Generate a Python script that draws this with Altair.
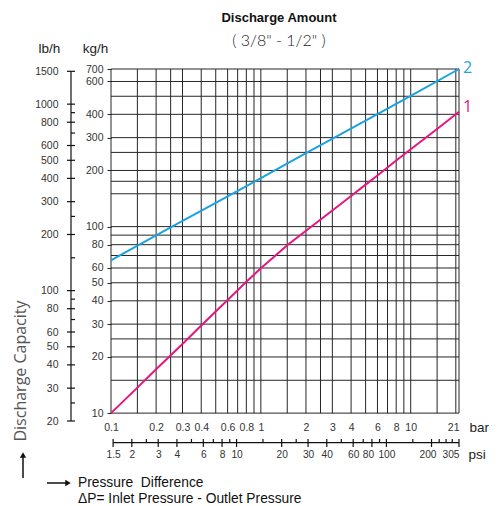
import altair as alt
import pandas as pd

# ---------------- data ----------------
# curve 1 (magenta): pressure difference [bar] -> discharge [kg/h]
c1_bar = [0.1, 0.15, 0.2, 0.3, 0.4, 0.6, 0.8, 1, 1.5, 2, 3, 4, 5, 6, 8, 10, 15, 21]
c1_kg = [10, 13.7, 17.2, 23.5, 29.5, 40.4, 50.6, 59.8, 79.4, 95, 122, 146, 168, 188, 226, 260, 334, 413]
# curve 2 (blue)
c2_bar = [0.1, 0.25, 0.5, 1, 2, 5, 10, 21]
c2_kg = [66, 99, 134, 182, 248, 370, 503, 700]
curve_names = ["1", "2"]

# grid lines
bar_grid = [0.1, 0.15, 0.2, 0.25, 0.3, 0.4, 0.5, 0.6, 0.7, 0.8, 0.9, 1, 1.5, 2, 2.5, 3,
            4, 5, 6, 7, 8, 9, 10, 15, 20, 21]
kg_grid = [10, 15, 20, 25, 30, 40, 50, 60, 70, 80, 90, 100, 150, 175, 200, 250, 300,
           400, 500, 600, 700]
# tick labels
bar_labels = [0.1, 0.2, 0.3, 0.4, 0.6, 0.8, 1, 2, 3, 4, 6, 8, 10, 21]
kg_labels = [10, 20, 30, 40, 50, 60, 80, 100, 200, 300, 400, 600, 700]
lb_major = [20, 30, 40, 50, 60, 80, 100, 200, 300, 400, 500, 600, 800, 1000, 1500]
lb_minor = [25, 70, 90, 150, 250, 700, 900]
psi_major = [1.5, 2, 3, 4, 6, 8, 10, 20, 30, 40, 60, 80, 100, 200, 305]
psi_minor = [2.5, 5, 7, 9, 15, 25, 50, 70, 90, 150, 225, 250, 275]

KG_TO_LB = 2.20462
BAR_TO_PSI = 305 / 21

# ---------------- styling ----------------
GRID = "#262626"
MAG = "#E5167F"
BLUE = "#1AA3E0"
LF = "Liberation Sans"
LABEL = dict(labelFont=LF, labelColor="#333", labelOverlap=False,
             labelFlush=False, grid=False, domain=False)
TITLE = dict(titleFont=LF, titleFontSize=13.5, titleFontWeight="normal", titleColor="#222",
             titleAngle=0, titleBaseline="middle")


def xs():
    return alt.Scale(type="log", domain=[0.1, 21], nice=False)


def ys():
    return alt.Scale(type="log", domain=[20 / KG_TO_LB, 700], nice=False)


def lbs():
    return alt.Scale(type="log", domain=[20, 700 * KG_TO_LB], nice=False)


def psis():
    return alt.Scale(type="log", domain=[0.1 * BAR_TO_PSI, 305], nice=False)


bar_axis = alt.Axis(orient="bottom", values=bar_labels, format="~g", ticks=False,
                    labelPadding=1, labelFontSize=10.5, title="bar", titleX=358, titleY=6,
                    titleAlign="left",
                    labelAlign={"condition": {"test": "datum.value >= 21", "value": "right"},
                                "value": "center"},
                    **LABEL, **TITLE)
kg_axis = alt.Axis(orient="left", values=kg_labels, format="~g", ticks=True, tickSize=4,
                   tickColor=GRID, labelPadding=4, labelFontSize=10.5, title="kg/h",
                   titleX=-16, titleY=-21, titleAlign="center", **LABEL, **TITLE)
lb_axis = alt.Axis(orient="left", offset=52, values=lb_major, format="~g", ticks=False,
                   labelPadding=1, labelFontSize=10.5, title="lb/h", titleX=-10, titleY=-21,
                   titleAlign="center", **LABEL, **TITLE)
psi_axis = alt.Axis(orient="bottom", offset=27.5, values=psi_major, format="~g", ticks=False,
                    labelPadding=1, labelFontSize=10.2, title="psi", titleX=357, titleY=6,
                    titleAlign="left",
                    labelAlign={"condition": {"test": "datum.value >= 305", "value": "right"},
                                "value": "center"},
                    labelOffset={"condition": {"test": "datum.value == 80 || datum.value == 200",
                                               "value": -4},
                                 "value": 0},
                    **LABEL, **TITLE)

# ---------------- main panel (bar / kg/h) ----------------
vgrid = alt.Chart(pd.DataFrame({"bar": bar_grid})).mark_rule(color=GRID, strokeWidth=1).encode(
    x=alt.X("bar:Q", scale=xs(), axis=bar_axis),
    y=alt.YDatum(10, scale=ys(), axis=None),
    y2=alt.datum(700),
)
hgrid = alt.Chart(pd.DataFrame({"kg": kg_grid})).mark_rule(color=GRID, strokeWidth=1).encode(
    y=alt.Y("kg:Q", scale=ys(), axis=kg_axis),
    x=alt.XDatum(0.1, scale=xs(), axis=None),
    x2=alt.datum(21),
)
curves = pd.DataFrame({
    "bar": c1_bar + c2_bar,
    "kg": c1_kg + c2_kg,
    "curve": [curve_names[0]] * len(c1_bar) + [curve_names[1]] * len(c2_bar),
})


def color():
    return alt.Color("curve:N", scale=alt.Scale(domain=curve_names, range=[MAG, BLUE]), legend=None)


lines = alt.Chart(curves).mark_line(strokeWidth=2).encode(
    x=alt.X("bar:Q", scale=xs(), axis=None),
    y=alt.Y("kg:Q", scale=ys(), axis=None),
    color=color(),
)
ends = pd.DataFrame({"bar": [c1_bar[-1], c2_bar[-1]], "kg": [c1_kg[-1], c2_kg[-1]],
                     "curve": curve_names})
end1 = alt.Chart(ends[ends.curve == "1"]).mark_text(align="left", dx=4, dy=-5, fontSize=16,
                                                    font="Open Sans").encode(
    x=alt.X("bar:Q", scale=xs(), axis=None), y=alt.Y("kg:Q", scale=ys(), axis=None),
    text="curve:N", color=color())
end2 = alt.Chart(ends[ends.curve == "2"]).mark_text(align="left", dx=4, dy=-1, fontSize=16,
                                                    font="Open Sans").encode(
    x=alt.X("bar:Q", scale=xs(), axis=None), y=alt.Y("kg:Q", scale=ys(), axis=None),
    text="curve:N", color=color())

# annotations
ann_v = pd.DataFrame({"t": ["Discharge Capacity"]})
ann_p = pd.DataFrame({"t": ["Pressure\u00a0\u00a0Difference"]})
ann_d = pd.DataFrame({"t": ["\u0394P= Inlet Pressure - Outlet Pressure"]})
vtext = alt.Chart(ann_v).mark_text(angle=270, fontSize=16, font="Open Sans", color="#555").encode(
    x=alt.value(-90), y=alt.value(302), text="t:N")
ptext = alt.Chart(ann_p).mark_text(align="left", fontSize=13.8, font=LF, color="#111").encode(
    x=alt.value(-33), y=alt.value(414), text="t:N")
dtext = alt.Chart(ann_d).mark_text(align="left", fontSize=13.8, font=LF, color="#111").encode(
    x=alt.value(-33), y=alt.value(430), text="t:N")
varrow = alt.Chart(ann_v).mark_rule(color="#111", strokeWidth=1.5).encode(
    x=alt.value(-88), y=alt.value(409), y2=alt.value(388))
vhead = alt.Chart(ann_v).mark_point(shape="triangle-up", filled=True, size=40, color="#111",
                                    opacity=1).encode(x=alt.value(-88), y=alt.value(386))
harrow = alt.Chart(ann_p).mark_rule(color="#111", strokeWidth=1.5).encode(
    x=alt.value(-64), x2=alt.value(-45), y=alt.value(414))
hhead = alt.Chart(ann_p).mark_point(shape="triangle-right", filled=True, size=40, color="#111",
                                    opacity=1).encode(x=alt.value(-43), y=alt.value(414))

# ---------------- lb/h axis ----------------
lb_line = alt.Chart(pd.DataFrame({"lb": [lb_major[0]]})).mark_rule(color="#111", strokeWidth=1.2).encode(
    y=alt.YDatum(lb_major[0], scale=lbs(), axis=None), y2=alt.datum(lb_major[-1]), x=alt.value(-40))
lb_maj = alt.Chart(pd.DataFrame({"lb": lb_major})).mark_rule(color="#111", strokeWidth=1.2).encode(
    y=alt.Y("lb:Q", scale=lbs(), axis=lb_axis), x=alt.value(-44), x2=alt.value(-36))
lb_min = alt.Chart(pd.DataFrame({"lb": lb_minor})).mark_rule(color="#111", strokeWidth=1.2).encode(
    y=alt.Y("lb:Q", scale=lbs(), axis=None), x=alt.value(-40), x2=alt.value(-36))

# ---------------- psi axis ----------------
psi_line = alt.Chart(pd.DataFrame({"psi": [psi_major[0]]})).mark_rule(color="#111", strokeWidth=1.2).encode(
    x=alt.XDatum(psi_major[0], scale=psis(), axis=None), x2=alt.datum(psi_major[-1]), y=alt.value(373.7))
psi_maj = alt.Chart(pd.DataFrame({"psi": psi_major})).mark_rule(color="#111", strokeWidth=1.2).encode(
    x=alt.X("psi:Q", scale=psis(), axis=psi_axis), y=alt.value(370), y2=alt.value(378))
psi_min = alt.Chart(pd.DataFrame({"psi": psi_minor})).mark_rule(color="#111", strokeWidth=1.2).encode(
    x=alt.X("psi:Q", scale=psis(), axis=None), y=alt.value(370), y2=alt.value(373.7))

chart = alt.layer(
    vgrid, hgrid, lines, end1, end2,
    lb_line, lb_maj, lb_min,
    psi_line, psi_maj, psi_min,
    vtext, ptext, dtext, varrow, vhead, harrow, hhead,
).resolve_scale(
    x="independent", y="independent", color="independent"
).properties(
    width=348,
    height=352,
    title=alt.TitleParams(
        text="Discharge Amount",
        subtitle='( 3/8"  -  1/2" )',
        anchor="middle", frame="group", dx=-6, offset=-8,
        font=LF, fontSize=13, fontWeight="bold", color="#111",
        subtitleFont="Lato", subtitleFontSize=16, subtitleFontWeight=300,
        subtitleColor="#222", subtitlePadding=8,
    ),
    padding={"left": 103, "top": 61, "right": 30, "bottom": 84},
    autosize=alt.AutoSizeParams(type="none"),
).configure_view(stroke=None)

chart.save("out.html", embed_options={"renderer": "svg", "actions": False})
